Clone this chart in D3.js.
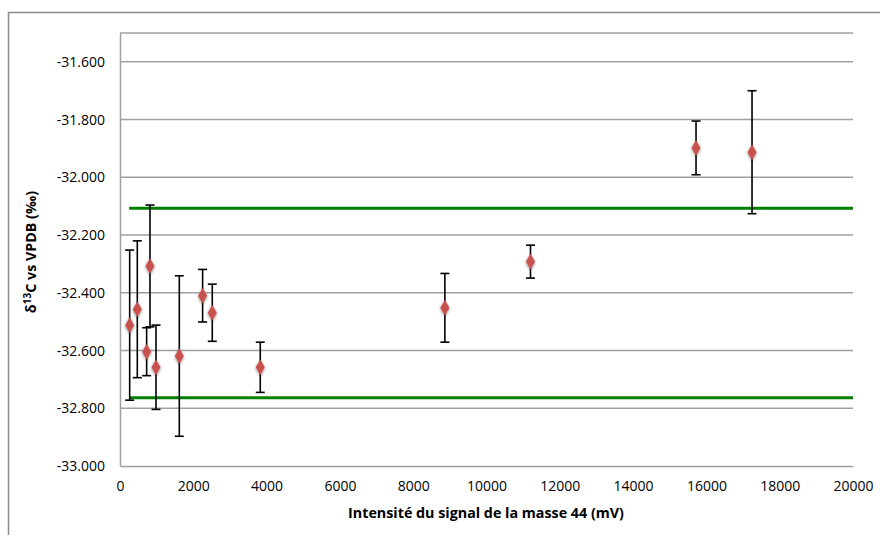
<!DOCTYPE html>
<html>
<head>
<meta charset="utf-8">
<script src="https://cdn.jsdelivr.net/npm/d3@7"></script>
<style>
  body { margin: 0; background: #fff; }
  svg { display: block; font-family: "Open Sans", sans-serif; }
</style>
</head>
<body>
<div id="chart"></div>
<script>
// signal intensity (mV), delta 13C and error
const intensity = [264, 472, 818, 727, 982, 1618, 2254, 2518, 3827, 8864, 11200, 15717, 17245];
const delta13C = [-32.512, -32.457, -32.307, -32.604, -32.658, -32.619, -32.410, -32.469, -32.658, -32.452, -32.292, -31.898, -31.913];
const errors = [0.260, 0.237, 0.211, 0.083, 0.146, 0.278, 0.091, 0.099, 0.087, 0.119, 0.057, 0.093, 0.213];
// green limit lines
const limitValues = [-32.107, -32.764];
const limitStart = 250;
const yTicks = [-31.6, -31.8, -32.0, -32.2, -32.4, -32.6, -32.8, -33.0];
const xTicks = [0, 2000, 4000, 6000, 8000, 10000, 12000, 14000, 16000, 18000, 20000];

const width = 880, height = 535;
const margin = {left: 120, top: 33, right: 27, bottom: 69};

const svg = d3.select("#chart").append("svg").attr("width", width).attr("height", height);

const x = d3.scaleLinear().domain([0, 20000]).range([margin.left, width - margin.right]);
const y = d3.scaleLinear().domain([-33.0, -31.5]).range([height - margin.bottom, margin.top]);

// outer chart frame
svg.append("rect")
    .attr("x", 8.5).attr("y", 12.5)
    .attr("width", 1000).attr("height", 1000)
    .attr("fill", "none").attr("stroke", "#8c8c8c").attr("stroke-width", 1.5);

// shadow for markers
const defs = svg.append("defs");
const f = defs.append("filter").attr("id", "shadow").attr("x", "-50%").attr("y", "-50%").attr("width", "200%").attr("height", "200%");
f.append("feGaussianBlur").attr("in", "SourceAlpha").attr("stdDeviation", 1.5).attr("result", "b");
f.append("feOffset").attr("in", "b").attr("dx", 0).attr("dy", 1).attr("result", "o");
f.append("feComponentTransfer").attr("in", "o").attr("result", "s")
    .append("feFuncA").attr("type", "linear").attr("slope", 0.5);
const fm = f.append("feMerge");
fm.append("feMergeNode").attr("in", "s");
fm.append("feMergeNode").attr("in", "SourceGraphic");

// gridlines (including the top one at -31.5)
svg.append("g")
    .selectAll("line")
    .data(yTicks.concat([-31.5]).filter(d => d !== -33.0))
    .join("line")
    .attr("x1", x(0)).attr("x2", x(20000))
    .attr("y1", d => y(d)).attr("y2", d => y(d))
    .attr("stroke", "#a0a0a0").attr("stroke-width", 1.5);

// axes
const yAxis = svg.append("g")
    .attr("transform", `translate(${margin.left},0)`)
    .call(d3.axisLeft(y).tickValues(yTicks).tickSize(0).tickPadding(15)
        .tickFormat(d => d3.format(".3f")(d).replace("−", "-")));
yAxis.select(".domain").attr("stroke", "#a0a0a0").attr("stroke-width", 1.5);
yAxis.selectAll("text").attr("font-size", 14).attr("fill", "#000").attr("font-family", "Open Sans");

const xAxis = svg.append("g")
    .attr("transform", `translate(0,${y(-33.0)})`)
    .call(d3.axisBottom(x).tickValues(xTicks).tickSize(0).tickPadding(15).tickFormat(d3.format("d")));
xAxis.select(".domain").attr("stroke", "#a0a0a0").attr("stroke-width", 1.5);
xAxis.selectAll("text").attr("font-size", 14).attr("fill", "#000").attr("font-family", "Open Sans");

// limit lines
svg.append("g")
    .selectAll("line")
    .data(limitValues)
    .join("line")
    .attr("x1", x(limitStart)).attr("x2", x(20000))
    .attr("y1", d => y(d)).attr("y2", d => y(d))
    .attr("stroke", "#008000").attr("stroke-width", 3);

// data
const data = intensity.map((d, i) => ({x: d, y: delta13C[i], e: errors[i]}));

const bars = svg.append("g").attr("stroke", "#000").attr("stroke-width", 1.6);
bars.selectAll(".v").data(data).join("line")
    .attr("x1", d => x(d.x)).attr("x2", d => x(d.x))
    .attr("y1", d => y(d.y + d.e)).attr("y2", d => y(d.y - d.e));
bars.selectAll(".t").data(data).join("line")
    .attr("x1", d => x(d.x) - 4.5).attr("x2", d => x(d.x) + 4.5)
    .attr("y1", d => y(d.y + d.e)).attr("y2", d => y(d.y + d.e));
bars.selectAll(".b").data(data).join("line")
    .attr("x1", d => x(d.x) - 4.5).attr("x2", d => x(d.x) + 4.5)
    .attr("y1", d => y(d.y - d.e)).attr("y2", d => y(d.y - d.e));

svg.append("g").selectAll("path").data(data).join("path")
    .attr("d", d3.symbol().type(d3.symbolDiamond).size(70))
    .attr("transform", d => `translate(${x(d.x)},${y(d.y)})`)
    .attr("fill", "#c9514e")
    .attr("filter", "url(#shadow)");

// axis titles
svg.append("text")
    .attr("x", 486).attr("y", 518)
    .attr("text-anchor", "middle")
    .attr("font-size", 14.3).attr("font-weight", "bold")
    .text("Intensité du signal de la masse 44 (mV)");

const yt = svg.append("text")
    .attr("transform", "translate(36,252) rotate(-90)")
    .attr("text-anchor", "middle")
    .attr("font-size", 14.3).attr("font-weight", "bold");
yt.append("tspan").text("δ");
yt.append("tspan").attr("font-size", 10).attr("dy", -5).text("13");
yt.append("tspan").attr("dy", 5).text("C vs VPDB (‰)");
</script>
</body>
</html>
